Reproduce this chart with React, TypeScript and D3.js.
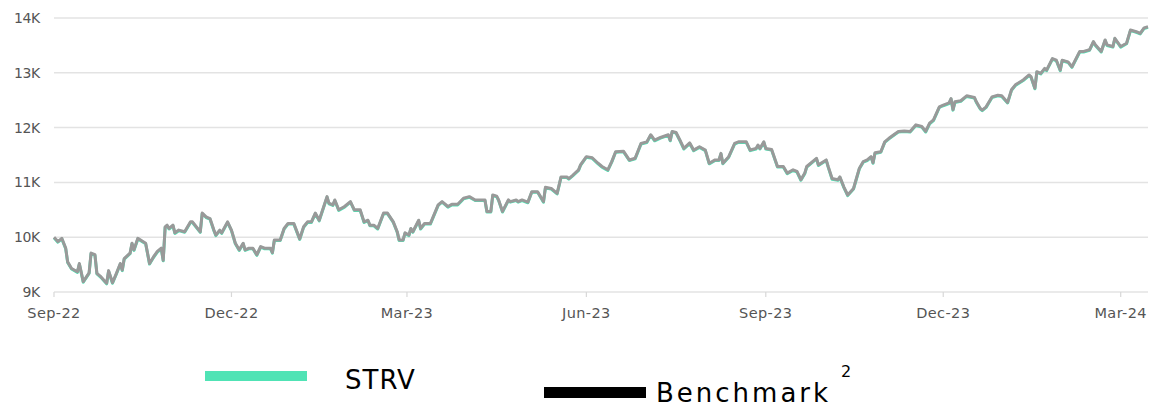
import React from "react";
import * as d3 from "d3";

const dates: string[] = [
  "2022-09-01","2022-09-03","2022-09-05","2022-09-07","2022-09-08","2022-09-10","2022-09-13","2022-09-14","2022-09-16","2022-09-19",
  "2022-09-20","2022-09-22","2022-09-23","2022-09-25","2022-09-28","2022-09-29","2022-10-01","2022-10-03","2022-10-05","2022-10-06",
  "2022-10-07","2022-10-10","2022-10-11","2022-10-12","2022-10-14","2022-10-18","2022-10-20","2022-10-22","2022-10-24","2022-10-26",
  "2022-10-27","2022-10-28","2022-10-29","2022-10-30","2022-11-01","2022-11-02","2022-11-04","2022-11-07","2022-11-10","2022-11-11",
  "2022-11-15","2022-11-16","2022-11-18","2022-11-20","2022-11-22","2022-11-23","2022-11-25","2022-11-26","2022-11-29","2022-12-01",
  "2022-12-03","2022-12-05","2022-12-07","2022-12-08","2022-12-10","2022-12-12","2022-12-14","2022-12-16","2022-12-18","2022-12-21",
  "2022-12-22","2022-12-23","2022-12-26","2022-12-28","2022-12-30","2023-01-02","2023-01-05","2023-01-07","2023-01-09","2023-01-11",
  "2023-01-13","2023-01-15","2023-01-19","2023-01-20","2023-01-22","2023-01-23","2023-01-25","2023-01-28","2023-01-31","2023-02-02",
  "2023-02-05","2023-02-07","2023-02-09","2023-02-10","2023-02-12","2023-02-14","2023-02-17","2023-02-19","2023-02-22","2023-02-24",
  "2023-02-25","2023-02-27","2023-02-28","2023-03-02","2023-03-03","2023-03-04","2023-03-07","2023-03-08","2023-03-10","2023-03-13",
  "2023-03-17","2023-03-19","2023-03-22","2023-03-24","2023-03-27","2023-03-30","2023-04-02","2023-04-05","2023-04-10","2023-04-11",
  "2023-04-13","2023-04-14","2023-04-16","2023-04-17","2023-04-19","2023-04-22","2023-04-23","2023-04-26","2023-04-27","2023-04-29",
  "2023-05-02","2023-05-04","2023-05-07","2023-05-10","2023-05-11","2023-05-14","2023-05-17","2023-05-19","2023-05-22","2023-05-23",
  "2023-05-25","2023-05-28","2023-05-29","2023-06-01","2023-06-04","2023-06-07","2023-06-09","2023-06-12","2023-06-14","2023-06-16",
  "2023-06-20","2023-06-23","2023-06-26","2023-06-29","2023-07-02","2023-07-04","2023-07-06","2023-07-09","2023-07-13","2023-07-14",
  "2023-07-15","2023-07-17","2023-07-19","2023-07-21","2023-07-24","2023-07-26","2023-07-29","2023-08-01","2023-08-03","2023-08-06",
  "2023-08-08","2023-08-09","2023-08-10","2023-08-13","2023-08-16","2023-08-18","2023-08-22","2023-08-24","2023-08-27","2023-08-28",
  "2023-08-29","2023-08-31","2023-09-01","2023-09-04","2023-09-07","2023-09-10","2023-09-12","2023-09-15","2023-09-17","2023-09-19",
  "2023-09-21","2023-09-22","2023-09-27","2023-09-28","2023-10-02","2023-10-03","2023-10-05","2023-10-08","2023-10-09","2023-10-11",
  "2023-10-13","2023-10-16","2023-10-19","2023-10-21","2023-10-23","2023-10-25","2023-10-26","2023-10-27","2023-10-30","2023-11-01",
  "2023-11-03","2023-11-06","2023-11-08","2023-11-11","2023-11-14","2023-11-17","2023-11-20","2023-11-22","2023-11-24","2023-11-26",
  "2023-11-29","2023-12-01","2023-12-04","2023-12-05","2023-12-06","2023-12-07","2023-12-10","2023-12-13","2023-12-17","2023-12-18",
  "2023-12-20","2023-12-21","2023-12-23","2023-12-26","2023-12-29","2023-12-31","2024-01-03","2024-01-05","2024-01-07","2024-01-11",
  "2024-01-14","2024-01-15","2024-01-17","2024-01-18","2024-01-20","2024-01-22","2024-01-23","2024-01-26","2024-01-28","2024-01-30",
  "2024-01-31","2024-02-03","2024-02-05","2024-02-09","2024-02-11","2024-02-14","2024-02-16","2024-02-17","2024-02-20","2024-02-22",
  "2024-02-23","2024-02-26","2024-02-27","2024-03-01","2024-03-04","2024-03-06","2024-03-09","2024-03-11","2024-03-13","2024-03-15",
];

// Growth of 10K, in thousands
const strvValues: number[] = [
  10.00,9.92,9.98,9.80,9.55,9.43,9.37,9.52,9.19,9.35,
  9.71,9.68,9.34,9.28,9.16,9.39,9.17,9.34,9.52,9.40,
  9.61,9.71,9.89,9.77,9.98,9.89,9.52,9.64,9.74,9.80,
  9.58,10.19,10.22,10.16,10.22,10.08,10.13,10.10,10.28,10.28,
  10.10,10.44,10.37,10.34,10.13,10.04,10.13,10.08,10.28,10.13,
  9.89,9.77,9.89,9.77,9.80,9.80,9.68,9.83,9.80,9.80,
  9.72,9.95,9.95,10.16,10.25,10.25,9.97,10.19,10.28,10.28,
  10.44,10.31,10.74,10.62,10.59,10.68,10.50,10.56,10.65,10.50,
  10.50,10.28,10.31,10.22,10.22,10.16,10.44,10.44,10.28,10.10,
  9.95,9.95,10.08,10.04,10.16,10.10,10.31,10.16,10.25,10.25,
  10.59,10.65,10.56,10.60,10.60,10.71,10.74,10.68,10.68,10.47,
  10.47,10.77,10.75,10.68,10.47,10.68,10.65,10.68,10.65,10.68,
  10.64,10.83,10.83,10.65,10.91,10.89,10.80,11.10,11.10,11.07,
  11.13,11.23,11.32,11.47,11.45,11.35,11.29,11.23,11.38,11.56,
  11.57,11.41,11.44,11.71,11.74,11.87,11.77,11.82,11.87,11.77,
  11.93,11.91,11.77,11.62,11.72,11.59,11.65,11.59,11.35,11.41,
  11.41,11.53,11.35,11.47,11.71,11.74,11.74,11.59,11.62,11.68,
  11.62,11.74,11.62,11.60,11.29,11.29,11.17,11.23,11.20,11.05,
  11.17,11.29,11.44,11.32,11.41,11.29,11.07,11.05,11.10,10.92,
  10.77,10.89,11.26,11.38,11.41,11.47,11.36,11.54,11.56,11.74,
  11.80,11.88,11.93,11.94,11.93,12.05,12.02,11.93,12.08,12.14,
  12.38,12.41,12.45,12.53,12.33,12.47,12.49,12.58,12.55,12.47,
  12.35,12.32,12.38,12.56,12.59,12.58,12.46,12.69,12.78,12.87,
  12.96,12.93,12.72,13.02,12.99,13.08,13.05,13.26,13.23,13.05,
  13.23,13.20,13.11,13.39,13.39,13.42,13.57,13.51,13.39,13.60,
  13.51,13.48,13.63,13.48,13.54,13.78,13.75,13.72,13.82,13.84,
];

// The benchmark line coincides with STRV at this scale
const benchmarkValues: number[] = strvValues;

const yTicks: number[] = [9, 10, 11, 12, 13, 14];
const xTickDates: string[] = ["2022-09-01", "2022-12-01", "2023-03-01", "2023-06-01", "2023-09-01", "2023-12-01", "2024-03-01"];
const seriesNames: string[] = ["STRV", "Benchmark"];

const W = 1152;
const H = 407;
const M = { left: 54, right: 4, top: 18, bottom: 115 };

export default function App() {
  const parse = d3.utcParse("%Y-%m-%d");
  const parsedDates = dates.map((d) => parse(d) as Date);
  const x = d3
    .scaleUtc()
    .domain([parsedDates[0], parsedDates[parsedDates.length - 1]])
    .range([M.left, W - M.right]);
  const y = d3.scaleLinear().domain([9, 14]).range([H - M.bottom, M.top]);
  const fmt = d3.utcFormat("%b-%y");

  const line = d3
    .line<number>()
    .x((_, i) => x(parsedDates[i]))
    .y((v) => y(v))
    .curve(d3.curveLinear);

  const font = "'DejaVu Sans', sans-serif";
  const [x0, x1] = x.range();

  return (
    <svg
      width={W}
      height={H}
      style={{ position: "absolute", left: 0, top: 0, background: "#fff" }}
    >
      {yTicks.map((t) => (
        <g key={t}>
          <line x1={x0} x2={x1} y1={y(t)} y2={y(t)} stroke="#e3e3e3" strokeWidth={1.5} />
          <text
            x={40}
            y={y(t)}
            dy="0.36em"
            textAnchor="end"
            fontFamily={font}
            fontSize={14}
            fill="#555"
            letterSpacing={-0.3}
          >
            {t}K
          </text>
        </g>
      ))}
      {xTickDates.map((d) => {
        const dt = parse(d) as Date;
        return (
          <g key={d}>
            <line x1={x(dt)} x2={x(dt)} y1={y(9)} y2={y(9) + 5} stroke="#d8d8d8" strokeWidth={1.2} />
            <text
              x={x(dt)}
              y={y(9) + 26}
              textAnchor="middle"
              fontFamily={font}
              fontSize={14.5}
              fill="#555"
              letterSpacing={0.4}
            >
              {fmt(dt)}
            </text>
          </g>
        );
      })}
      <path d={line(strvValues) || ""} fill="none" stroke="#50e3b5" strokeWidth={3} strokeLinejoin="round" transform="translate(0,0.6)" />
      <path d={line(benchmarkValues) || ""} fill="none" stroke="#999999" strokeWidth={3} strokeLinejoin="round" />

      <rect x={205} y={371} width={102} height={10} fill="#50e3b5" />
      <text x={345} y={389} fontFamily={font} fontSize={26} fill="#000" letterSpacing={1}>
        {seriesNames[0]}
      </text>
      <rect x={544} y={387} width={102} height={11} fill="#000" />
      <text x={656} y={402} fontFamily={font} fontSize={26} fill="#000" letterSpacing={3}>
        {seriesNames[1]}
      </text>
      <text x={841} y={377} fontFamily={font} fontSize={16} fill="#000">
        2
      </text>
    </svg>
  );
}
